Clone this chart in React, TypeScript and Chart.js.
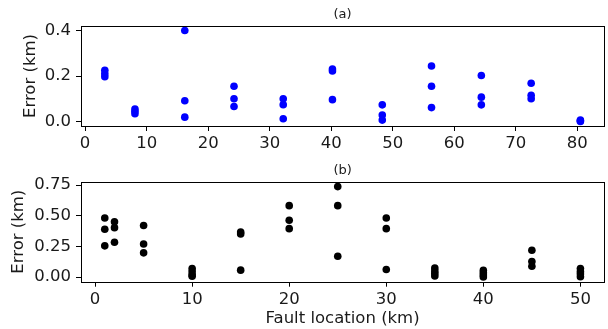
import React, { useEffect, useRef } from "react";
import { Chart, registerables } from "chart.js";

Chart.register(...registerables);

// ---- Panel (a) data ----
const aLocations = [3.2, 8.1, 16.2, 24.2, 32.2, 40.2, 48.3, 56.3, 64.4, 72.5, 80.5];
const aErrors1 = [0.225, 0.055, 0.4, 0.155, 0.1, 0.231, 0.073, 0.244, 0.202, 0.168, 0.006];
const aErrors2 = [0.21, 0.045, 0.091, 0.1, 0.074, 0.222, 0.028, 0.155, 0.107, 0.115, 0.003];
const aErrors3 = [0.197, 0.034, 0.019, 0.066, 0.012, 0.096, 0.006, 0.061, 0.073, 0.1, 0.0];
const aXTicks = [0, 10, 20, 30, 40, 50, 60, 70, 80];
const aYTicks = [0.0, 0.2, 0.4];

// ---- Panel (b) data ----
const bLocations = [1, 2, 5, 10, 15, 20, 25, 30, 35, 40, 45, 50];
const bErrors1 = [0.482, 0.45, 0.42, 0.07, 0.368, 0.582, 0.737, 0.482, 0.075, 0.055, 0.219, 0.07];
const bErrors2 = [0.39, 0.403, 0.27, 0.045, 0.352, 0.463, 0.582, 0.395, 0.05, 0.035, 0.127, 0.045];
const bErrors3 = [0.255, 0.284, 0.198, 0.02, 0.057, 0.395, 0.17, 0.062, 0.03, 0.018, 0.089, 0.025];
const bErrors4 = [null, null, null, 0.008, null, null, null, null, 0.01, 0.002, null, 0.003];
const bXTicks = [0, 10, 20, 30, 40, 50];
const bYTicks = [0.0, 0.25, 0.5, 0.75];

const FONT = "'DejaVu Sans', sans-serif";
const TEXT = "#1a1a1a";

const framePlugin = {
  id: "frame",
  afterDatasetsDraw(chart: any) {
    const { ctx, chartArea } = chart;
    ctx.save();
    ctx.strokeStyle = "#000";
    ctx.lineWidth = 1;
    ctx.strokeRect(
      Math.round(chartArea.left) + 0.5,
      Math.round(chartArea.top) + 0.5,
      Math.round(chartArea.right) - Math.round(chartArea.left),
      Math.round(chartArea.bottom) - Math.round(chartArea.top)
    );
    ctx.restore();
  },
};

function toPoints(xs: number[], ys: (number | null)[]) {
  const out: { x: number; y: number }[] = [];
  xs.forEach((x, i) => {
    const y = ys[i];
    if (y !== null && y !== undefined) out.push({ x, y });
  });
  return out;
}

interface PanelProps {
  title: string;
  color: string;
  xs: number[];
  series: (number | null)[][];
  xTicks: number[];
  yTicks: number[];
  xDecimals: number;
  yDecimals: number;
  xMin: number;
  xMax: number;
  yMin: number;
  yMax: number;
  height: number;
  top: number;
  titlePadTop: number;
  titlePadBottom: number;
  xAxisHeight: number;
  yTitlePad: number;
  xTitle?: string;
}

function Panel(p: PanelProps) {
  const ref = useRef<HTMLCanvasElement>(null);
  useEffect(() => {
    if (!ref.current) return;
    const datasets = p.series.map((ys) => ({
      data: toPoints(p.xs, ys),
      backgroundColor: p.color,
      borderColor: p.color,
      borderWidth: 0,
      pointRadius: 3.8,
      pointHoverRadius: 3.8,
    }));
    const chart = new Chart(ref.current, {
      type: "scatter",
      data: { datasets },
      plugins: [framePlugin],
      options: {
        animation: false,
        responsive: false,
        maintainAspectRatio: false,
        layout: { padding: { left: 0, right: 2, top: 0, bottom: 0 } },
        plugins: {
          legend: { display: false },
          tooltip: { enabled: false },
          title: {
            display: true,
            text: p.title,
            fullSize: false,
            color: TEXT,
            font: { family: FONT, size: 13, weight: "normal", lineHeight: 1.2 },
            padding: { top: p.titlePadTop, bottom: p.titlePadBottom },
          },
        },
        scales: {
          x: {
            type: "linear",
            min: p.xMin,
            max: p.xMax,
            border: { display: false },
            grid: {
              display: true,
              drawOnChartArea: false,
              drawTicks: true,
              tickLength: 5,
              color: "#000",
              lineWidth: 1,
            },
            ticks: {
              color: TEXT,
              padding: 3,
              maxRotation: 0,
              font: { family: FONT, size: 16.5 },
              callback: (v: any) => Number(v).toFixed(p.xDecimals),
            },
            afterBuildTicks: (scale: any) => {
              scale.ticks = p.xTicks.map((v) => ({ value: v }));
            },
            afterFit: (scale: any) => {
              scale.height = p.xAxisHeight;
            },
            title: {
              display: !!p.xTitle,
              text: p.xTitle || "",
              color: TEXT,
              font: { family: FONT, size: 16.5 },
              padding: { top: 0, bottom: 0 },
            },
          },
          y: {
            type: "linear",
            min: p.yMin,
            max: p.yMax,
            border: { display: false },
            grid: {
              display: true,
              drawOnChartArea: false,
              drawTicks: true,
              tickLength: 5,
              color: "#000",
              lineWidth: 1,
            },
            ticks: {
              color: TEXT,
              padding: 5,
              font: { family: FONT, size: 16.5 },
              callback: (v: any) => Number(v).toFixed(p.yDecimals),
            },
            afterBuildTicks: (scale: any) => {
              scale.ticks = p.yTicks.map((v) => ({ value: v }));
            },
            afterFit: (scale: any) => {
              scale.width = 81;
            },
            title: {
              display: true,
              text: "Error (km)",
              color: TEXT,
              font: { family: FONT, size: 16.5 },
              padding: { top: p.yTitlePad, bottom: 0 },
            },
          },
        },
      },
    });
    return () => chart.destroy();
  }, []);
  return (
    <canvas
      ref={ref}
      width={608}
      height={p.height}
      style={{ position: "absolute", left: 0, top: p.top, width: 608, height: p.height }}
    />
  );
}

export default function App() {
  return (
    <div style={{ position: "fixed", left: 0, top: 0, width: 608, height: 329, background: "#fff" }}>
      <Panel
        title="(a)"
        color="#0000ff"
        xs={aLocations}
        series={[aErrors1, aErrors2, aErrors3]}
        xTicks={aXTicks}
        yTicks={aYTicks}
        xDecimals={0}
        yDecimals={1}
        xMin={-0.67}
        xMax={84.37}
        yMin={-0.02}
        yMax={0.42}
        height={160}
        top={0}
        titlePadTop={7.2}
        titlePadBottom={3.2}
        xAxisHeight={34}
        yTitlePad={21}
      />
      <Panel
        title="(b)"
        color="#000000"
        xs={bLocations}
        series={[bErrors1, bErrors2, bErrors3, bErrors4]}
        xTicks={bXTicks}
        yTicks={bYTicks}
        xDecimals={0}
        yDecimals={2}
        xMin={-1.45}
        xMax={52.45}
        yMin={-0.037}
        yMax={0.777}
        height={169}
        top={160}
        titlePadTop={3.2}
        titlePadBottom={2.9}
        xAxisHeight={47.3}
        yTitlePad={9}
        xTitle="Fault location (km)"
      />
    </div>
  );
}
